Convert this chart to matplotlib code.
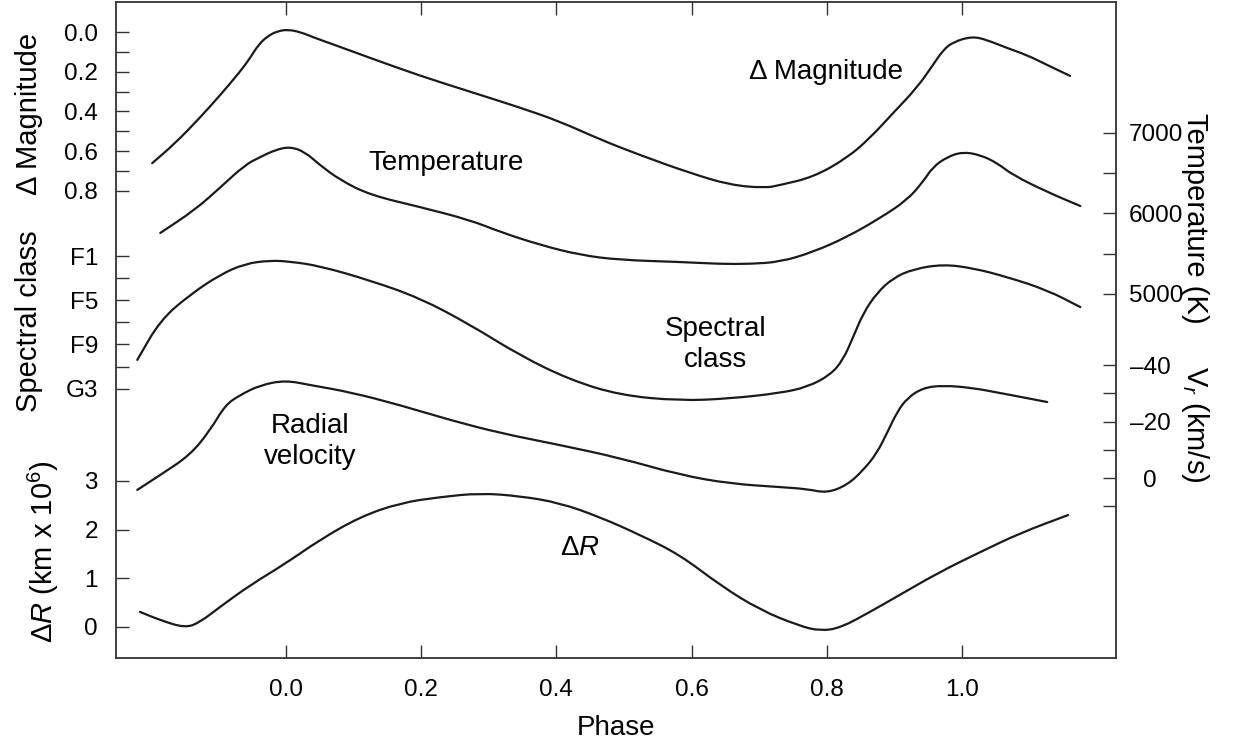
import matplotlib.pyplot as plt
from matplotlib.path import Path
from matplotlib.patches import PathPatch
from matplotlib.ticker import FixedLocator, FixedFormatter

plt.rcParams['font.family'] = ['Liberation Sans', 'DejaVu Sans']
plt.rcParams['mathtext.fontset'] = 'custom'
plt.rcParams['mathtext.rm'] = 'Liberation Sans'
plt.rcParams['mathtext.it'] = 'Liberation Sans:italic'

# --- data (phase vs. each quantity) ---
mag_phase = [-0.198, -0.164, -0.127, -0.098, -0.068, -0.053, -0.041, -0.027, -0.012,
             0.003, 0.021, 0.043, 0.072, 0.124, 0.198, 0.272, 0.346, 0.405, 0.464,
             0.524, 0.598, 0.657, 0.709, 0.731, 0.780, 0.830, 0.864, 0.898, 0.933,
             0.957, 0.972, 0.987, 1.015, 1.037, 1.067, 1.096, 1.126, 1.160]
mag = [0.66, 0.56, 0.43, 0.32, 0.20, 0.13, 0.065, 0.02, -0.005,
       -0.012, 0.0, 0.03, 0.065, 0.13, 0.22, 0.30, 0.38, 0.45, 0.54,
       0.62, 0.71, 0.77, 0.785, 0.77, 0.73, 0.634, 0.533, 0.408, 0.282,
       0.166, 0.091, 0.050, 0.022, 0.040, 0.081, 0.116, 0.166, 0.221]

temp_phase = [-0.186, -0.135, -0.098, -0.061, -0.038, -0.016, 0.006, 0.028, 0.050,
              0.080, 0.124, 0.198, 0.272, 0.317, 0.376, 0.435, 0.494, 0.583, 0.642,
              0.686, 0.731, 0.780, 0.830, 0.879, 0.919, 0.942, 0.957, 0.978, 1.001,
              1.027, 1.052, 1.075, 1.126, 1.175]
temp = [5758, 6043, 6317, 6602, 6702, 6789, 6830, 6764, 6602,
        6416, 6230, 6081, 5919, 5770, 5609, 5484, 5422, 5398, 5373,
        5373, 5398, 5522, 5708, 5944, 6168, 6391, 6578, 6702, 6765,
        6727, 6627, 6478, 6267, 6093]

spec_phase = [-0.220, -0.186, -0.142, -0.098, -0.061, -0.024, 0.006, 0.050, 0.124,
              0.198, 0.272, 0.346, 0.420, 0.494, 0.583, 0.657, 0.731, 0.771, 0.805,
              0.824, 0.839, 0.854, 0.874, 0.898, 0.928, 0.972, 1.016, 1.067, 1.126,
              1.175]
spec = [10.4, 6.8, 4.5, 2.7, 1.7, 1.4, 1.5, 1.9, 3.2,
        4.8, 7.2, 10.0, 12.2, 13.6, 14.1, 13.9, 13.4, 12.86, 11.77,
        10.41, 8.33, 6.16, 4.35, 2.99, 2.18, 1.75, 2.09, 2.90, 4.08,
        5.62]
spec_ticks = [1, 5, 9, 13]
spec_labels = ['F1', 'F5', 'F9', 'G3']

vel_phase = [-0.220, -0.186, -0.142, -0.112, -0.090, -0.068, -0.038, -0.001, 0.036,
             0.095, 0.169, 0.243, 0.317, 0.405, 0.494, 0.583, 0.657, 0.731, 0.771,
             0.800, 0.830, 0.854, 0.874, 0.889, 0.904, 0.919, 0.942, 0.972, 1.016,
             1.056, 1.096, 1.126]
vel = [4.2, -1.1, -8.1, -17.0, -25.8, -29.4, -32.9, -34.6, -32.9,
       -30.4, -25.8, -20.5, -15.9, -11.7, -7.1, -1.1, 2.0, 3.2, 3.9,
       5.3, 2.5, -2.8, -8.8, -15.9, -23.4, -28.3, -31.9, -32.8, -31.9,
       -30.1, -28.3, -26.9]

dr_phase = [-0.216, -0.186, -0.149, -0.127, -0.098, -0.053, 0.0, 0.050, 0.109,
            0.169, 0.228, 0.287, 0.346, 0.405, 0.464, 0.524, 0.583, 0.642, 0.701,
            0.760, 0.790, 0.820, 0.864, 0.908, 0.967, 1.027, 1.086, 1.157]
dr = [0.31, 0.14, -0.02, 0.10, 0.41, 0.86, 1.31, 1.79, 2.26,
      2.55, 2.67, 2.75, 2.69, 2.55, 2.26, 1.89, 1.48, 0.86, 0.35,
      0.02, -0.08, -0.02, 0.31, 0.66, 1.13, 1.54, 1.93, 2.30]

phase_ticks = [0.0, 0.2, 0.4, 0.6, 0.8, 1.0]


def draw_curve(a, xs, ys):
    # smooth quadratic Bezier path through the midpoints of the read points
    pts = list(zip(xs, ys))
    mids = [((x0 + x1) / 2, (y0 + y1) / 2) for (x0, y0), (x1, y1) in zip(pts[:-1], pts[1:])]
    verts = [pts[0], mids[0]]
    codes = [Path.MOVETO, Path.LINETO]
    for p, m in zip(pts[1:-1], mids[1:]):
        verts += [p, m]
        codes += [Path.CURVE3, Path.CURVE3]
    verts.append(pts[-1])
    codes.append(Path.LINETO)
    a.add_patch(PathPatch(Path(verts, codes), fill=False, edgecolor='#1a1a1a',
                          lw=1.6, joinstyle='round', capstyle='round'))


fig = plt.figure(figsize=(12.45, 7.46), dpi=100)
ax = fig.add_axes([116 / 1245, 88 / 746, 1000 / 1245, 656 / 746])
ax_sp = ax.twinx()
ax_dr = ax.twinx()
ax_t = ax.twinx()
ax_v = ax.twinx()
ax_sp.yaxis.tick_left()
ax_dr.yaxis.tick_left()

draw_curve(ax, mag_phase, mag)
draw_curve(ax_t, temp_phase, temp)
draw_curve(ax_sp, spec_phase, spec)
draw_curve(ax_v, vel_phase, vel)
draw_curve(ax_dr, dr_phase, dr)

ax.set_xlim(-0.2515, 1.2278)
ax.set_ylim(3.150, -0.151)
ax_sp.set_ylim(37.38, -21.99)
ax_dr.set_ylim(-0.637, 12.84)
ax_t.set_ylim(478, 8627)
ax_v.set_ylim(63.7, -168.5)

tick_kw = dict(direction='in', length=9.5, width=1.0, labelsize=17.5, color='#333333')
ax.set_xticks(phase_ticks)
ax.set_xticklabels([f'{p:.1f}' for p in phase_ticks])
ax.tick_params(axis='x', pad=15, top=True, **tick_kw)

ax.yaxis.set_major_locator(FixedLocator([0.0, 0.2, 0.4, 0.6, 0.8]))
ax.yaxis.set_major_formatter(FixedFormatter(['0.0', '0.2', '0.4', '0.6', '0.8']))
ax.yaxis.set_minor_locator(FixedLocator([0.1, 0.3, 0.5, 0.7]))
ax_sp.yaxis.set_major_locator(FixedLocator(spec_ticks))
ax_sp.yaxis.set_major_formatter(FixedFormatter(spec_labels))
ax_sp.yaxis.set_minor_locator(FixedLocator([3, 7, 11]))
ax_dr.yaxis.set_major_locator(FixedLocator([0, 1, 2, 3]))
ax_dr.yaxis.set_major_formatter(FixedFormatter(['0', '1', '2', '3']))
ax_dr.yaxis.set_minor_locator(FixedLocator([]))
ax_t.yaxis.set_major_locator(FixedLocator([5000, 6000, 7000]))
ax_t.yaxis.set_major_formatter(FixedFormatter(['5000', '6000', '7000']))
ax_t.yaxis.set_minor_locator(FixedLocator([5500, 6500]))
ax_v.yaxis.set_major_locator(FixedLocator([-40, -20, 0]))
ax_v.yaxis.set_major_formatter(FixedFormatter(['\u201340', '\u201320', '0']))
ax_v.yaxis.set_minor_locator(FixedLocator([-30, -10, 10]))

for a in (ax, ax_sp, ax_dr):
    a.tick_params(axis='y', which='both', pad=13, **tick_kw)
for a in (ax_t, ax_v):
    a.tick_params(axis='y', which='both', pad=9, **tick_kw)
ax_v.tick_params(axis='y', pad=24.5)
for lab in ax_v.get_yticklabels():
    lab.set_horizontalalignment('center')

for a in (ax_sp, ax_dr, ax_t, ax_v):
    for s in a.spines.values():
        s.set_visible(False)
for s in ax.spines.values():
    s.set_linewidth(1.3)
    s.set_color('#333333')

# axis titles
lab_kw = dict(fontsize=21, ha='center', va='center', transform=ax.transAxes)
ax.text(-0.087, 0.829, '\u0394 Magnitude', rotation=90, **lab_kw)
ax.text(-0.087, 0.514, 'Spectral class', rotation=90, **lab_kw)
ax.text(-0.073, 0.162, r'$\Delta\mathit{R}$ (km x 10$^{6}$)', rotation=90, **lab_kw)
ax.text(1.079, 0.671, 'Temperature (K)', rotation=-90, **lab_kw)
ax.text(1.079, 0.357, r'V$_{r}$ (km/s)', rotation=-90, **lab_kw)
ax.set_xlabel('Phase', fontsize=20, labelpad=10)

# curve annotations
ann_kw = dict(fontsize=20, ha='center', va='center', linespacing=1.25)
ax_t.text(0.237, 6627, 'Temperature', **ann_kw)
ax.text(0.799, 0.201, '\u0394 Magnitude', **ann_kw)
ax_sp.text(0.635, 9.05, 'Spectral\nclass', **ann_kw)
ax_v.text(0.036, -13.1, 'Radial\nvelocity', **ann_kw)
ax_dr.text(0.435, 1.62, r'$\Delta\mathit{R}$', **ann_kw)

fig.savefig('out.png', dpi=100)
